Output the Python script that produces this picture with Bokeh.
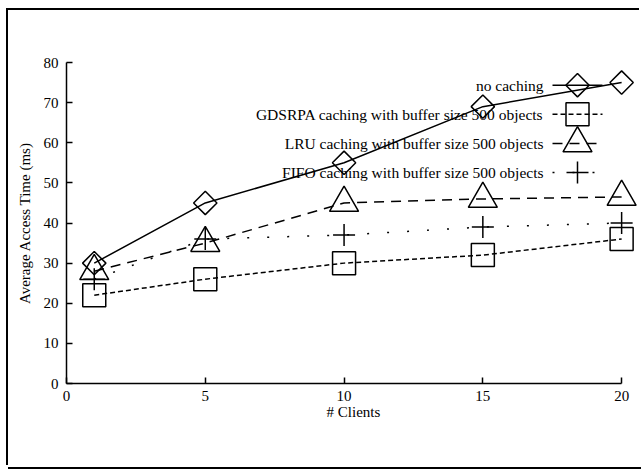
import math
from bokeh.plotting import figure
from bokeh.models import FixedTicker, Range1d, Label
from bokeh.embed import file_html
from bokeh.resources import INLINE

clients = [1, 5, 10, 15, 20]
no_caching = [30, 45, 55, 69, 75]
gdsrpa = [22, 26, 30, 32, 36]
lru = [28, 35, 45, 46, 46.5]
fifo = [26, 36, 37, 39, 40]

series_names = [
    "no caching",
    "GDSRPA caching with buffer size 500 objects",
    "LRU caching with buffer size 500 objects",
    "FIFO caching with buffer size 500 objects",
]
x_ticks = [0, 5, 10, 15, 20]
y_ticks = [0, 10, 20, 30, 40, 50, 60, 70, 80]

FONT = "Liberation Serif"
FS = "15px"
LFS = "15.5px"

p = figure(width=633, height=457, output_backend="svg", toolbar_location=None,
           x_range=Range1d(0, 20.68), y_range=Range1d(0, 80),
           min_border_left=58, min_border_right=1, min_border_top=52, min_border_bottom=84)
p.styles = {"margin-left": "8px", "margin-top": "10px",
            "box-shadow": "-2px -2px 0 0 black, 0 2px 0 0 black"}
p.outline_line_color = None
p.grid.visible = False
p.background_fill_color = "white"
p.border_fill_color = "white"

# legend coordinate system: row index (0 at top) and sample position (0..1)
p.extra_y_ranges = {"legend": Range1d(start=10.25, end=-0.78)}
p.extra_x_ranges = {"legend": Range1d(start=-9.72, end=1.76)}

for ax in (p.xaxis[0], p.yaxis[0]):
    ax.axis_line_width = 1.5
    ax.major_tick_line_width = 1.5
    ax.major_tick_in = 6
    ax.major_tick_out = 0
    ax.minor_tick_line_color = None
    ax.major_label_text_font = FONT
    ax.major_label_text_font_size = FS
    ax.major_label_text_color = "black"
    ax.axis_label_text_font = FONT
    ax.axis_label_text_font_size = FS
    ax.axis_label_text_font_style = "normal"
    ax.axis_label_text_color = "black"

p.xaxis.bounds = (0, 20)
p.xaxis.major_label_standoff = 7
p.yaxis.major_label_standoff = 8
p.xaxis.ticker = FixedTicker(ticks=x_ticks)
p.yaxis.ticker = FixedTicker(ticks=y_ticks)
p.xaxis.axis_label = "# Clients"
p.yaxis.axis_label = "Average Access Time (ms)"
p.xaxis.axis_label_standoff = 0
p.yaxis.axis_label_standoff = 8

styles = [
    (no_caching, "solid", "square", 16.5, math.pi / 4),
    (gdsrpa, "5 3", "square", 23, 0),
    (lru, "10 7", "triangle", 29, 0),
    (fifo, "2 18", "cross", 22, 0),
]

for row, (name, (ys, dash, marker, size, angle)) in enumerate(zip(series_names, styles)):
    p.line(clients, ys, line_color="black", line_width=1.5, line_dash=dash)
    p.scatter(clients, ys, marker=marker, size=size, angle=angle,
              line_color="black", line_width=1.5, fill_color=None)
    # legend sample
    p.line([0, 1], [row, row], x_range_name="legend", y_range_name="legend",
           line_color="black", line_width=1.5, line_dash=dash)
    p.scatter([0.5], [row], x_range_name="legend", y_range_name="legend",
              marker=marker, size=size, angle=angle,
              line_color="black", line_width=1.5, fill_color=None)
    p.add_layout(Label(x=-0.18, y=row, text=name,
                       x_range_name="legend", y_range_name="legend",
                       text_align="right", text_baseline="middle",
                       text_font=FONT, text_font_size=LFS, text_color="black"))

open("out.html", "w").write(file_html(p, INLINE))
